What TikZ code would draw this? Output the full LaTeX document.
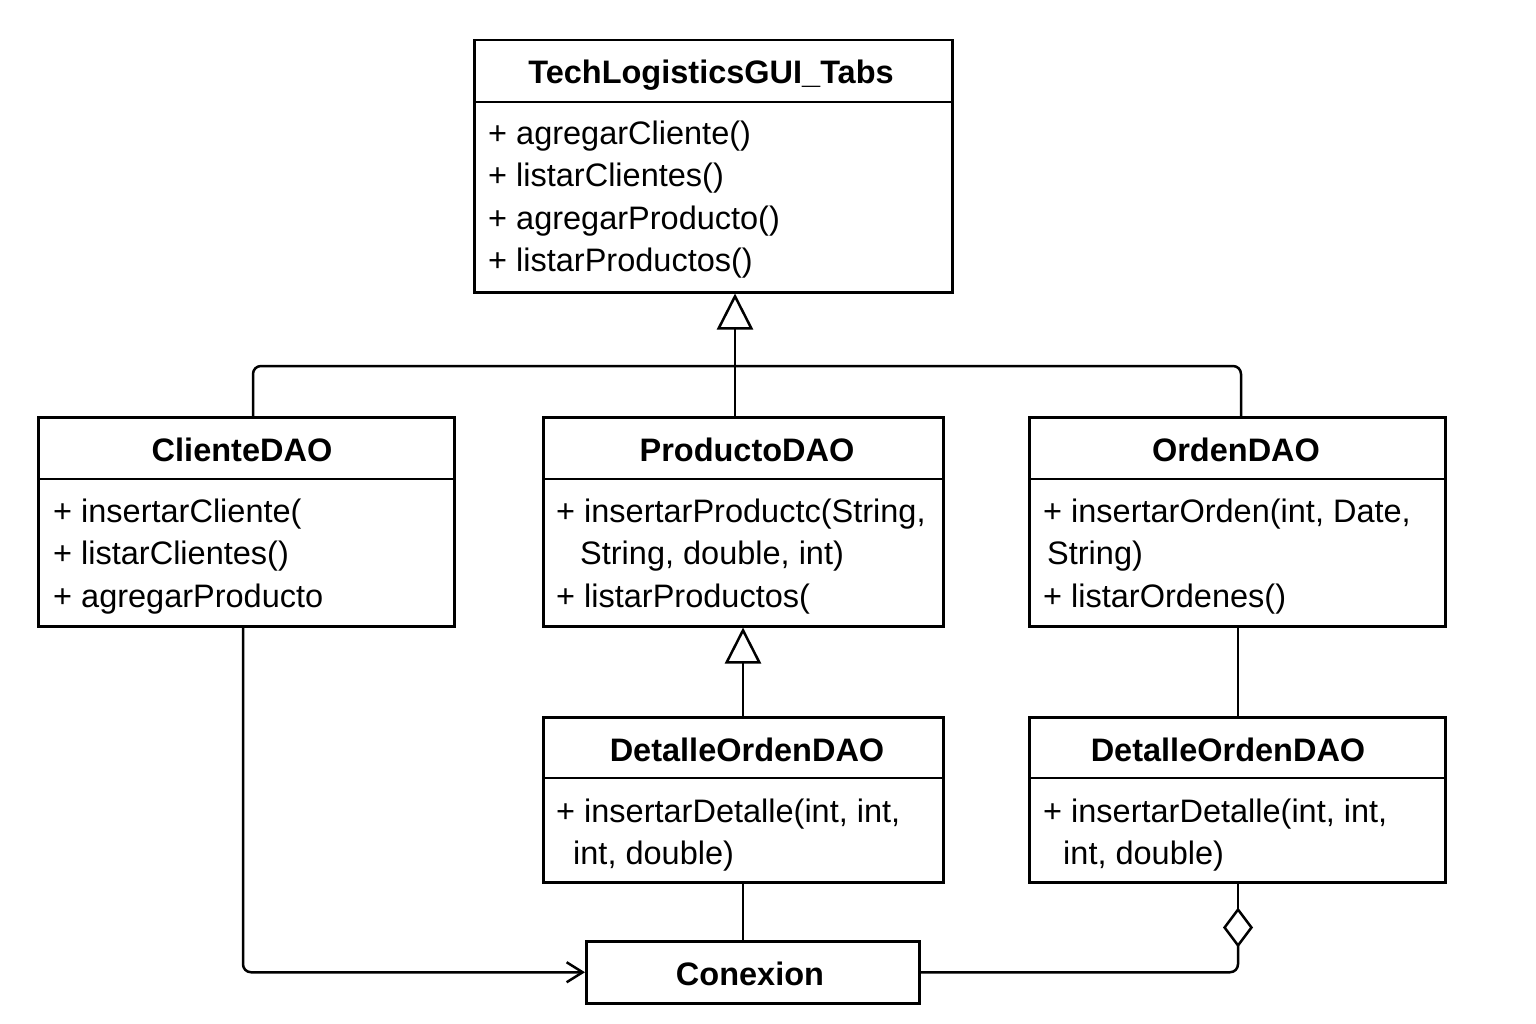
\documentclass[tikz,border=0pt]{standalone}
\usepackage{fontspec}
\setmainfont{Liberation Sans}
\usetikzlibrary{arrows.meta}
\tikzset{
  classbox/.style={draw, line width=2.5pt, inner sep=0pt, anchor=north west, fill=white},
  ctitle/.style={anchor=base, inner sep=0pt, font=\fontsize{32.5}{38}\selectfont\bfseries},
  mline/.style={anchor=base west, inner sep=0pt, font=\fontsize{32.5}{38}\selectfont},
  conn/.style={line width=2.5pt, rounded corners=8pt},
  gen/.style={conn, -{Triangle[open, length=36pt, width=36pt, line width=2.5pt]}},
  agg/.style={conn, -{Diamond[open, length=40pt, width=30pt, line width=2.5pt]}},
  dep/.style={conn, -{Straight Barb[length=16pt, width=20pt, line width=2.5pt]}},
  divider/.style={line width=2.5pt}
}
\begin{document}
\begin{tikzpicture}[x=1pt, y=-1pt]
\useasboundingbox (0,0) rectangle (1536,1024);
\fill[white] (0,0) rectangle (1536,1024);

% ---- TechLogisticsGUI_Tabs
\node[classbox, minimum width=478pt, minimum height=252pt] (gui) at (473,39) {};
\node[ctitle] (guiT) at (711,84) {TechLogisticsGUI\_Tabs};
\coordinate (guiD) at (0,102);
\draw[divider] (gui.west |- guiD) -- (gui.east |- guiD);
\node[mline] (gui1) at (488,145) {+ agregarCliente()};
\node[mline] (gui2) at (488,187) {+ listarClientes()};
\node[mline] (gui3) at (488,230) {+ agregarProducto()};
\node[mline] (gui4) at (488,272) {+ listarProductos()};

% ---- ClienteDAO
\node[classbox, minimum width=416pt, minimum height=209pt] (cli) at (37,416) {};
\node[ctitle] (cliT) at (242,461) {ClienteDAO};
\coordinate (rowD) at (0,479);
\draw[divider] (cli.west |- rowD) -- (cli.east |- rowD);
\node[mline] (cli1) at (53,522) {+ insertarCliente(};
\node[mline] (cli2) at (53,564) {+ listarClientes()};
\node[mline] (cli3) at (53,607) {+ agregarProducto};

% ---- ProductoDAO
\node[classbox, minimum width=400pt, minimum height=209pt] (prod) at (542,416) {};
\node[ctitle] (prodT) at (747,461) {ProductoDAO};
\draw[divider] (prod.west |- rowD) -- (prod.east |- rowD);
\node[mline] (prod1) at (556,522) {+ insertarProductc(String,};
\node[mline] (prod2) at (580,564) {String, double, int)};
\node[mline] (prod3) at (556,607) {+ listarProductos(};

% ---- OrdenDAO
\node[classbox, minimum width=416pt, minimum height=209pt] (ord) at (1028,416) {};
\node[ctitle] (ordT) at (1236,461) {OrdenDAO};
\draw[divider] (ord.west |- rowD) -- (ord.east |- rowD);
\node[mline] (ord1) at (1043,522) {+ insertarOrden(int, Date,};
\node[mline] (ord2) at (1047,564) {String)};
\node[mline] (ord3) at (1043,607) {+ listarOrdenes()};

% ---- DetalleOrdenDAO (middle)
\node[classbox, minimum width=400pt, minimum height=165pt] (detm) at (542,716) {};
\node[ctitle] (detmT) at (747,761) {DetalleOrdenDAO};
\coordinate (rowD2) at (0,778);
\draw[divider] (detm.west |- rowD2) -- (detm.east |- rowD2);
\node[mline] (detm1) at (556,822) {+ insertarDetalle(int, int,};
\node[mline] (detm2) at (573,864) {int, double)};

% ---- DetalleOrdenDAO (right)
\node[classbox, minimum width=416pt, minimum height=165pt] (detr) at (1028,716) {};
\node[ctitle] (detrT) at (1228,761) {DetalleOrdenDAO};
\draw[divider] (detr.west |- rowD2) -- (detr.east |- rowD2);
\node[mline] (detr1) at (1043,822) {+ insertarDetalle(int, int,};
\node[mline] (detr2) at (1063,864) {int, double)};

% ---- Conexion
\node[classbox, minimum width=333pt, minimum height=62pt] (conex) at (585,940) {};
\node[ctitle] (conexT) at (750,985) {Conexion};

% ---- connectors
\coordinate (cx735) at (735,0);
\coordinate (hl) at (253,366);
\coordinate (hr) at (1241,366);
\coordinate (cx743) at (743,0);
\coordinate (cx243) at (243,0);
\coordinate (cx1238) at (1238,0);

\draw[gen] (prod.north -| cx735) -- (gui.south -| cx735);
\draw[conn] (cli.north -| hl) -- (hl) -- (hr) -- (ord.north -| hr);
\draw[gen] (detm.north -| cx743) -- (prod.south -| cx743);
\draw[conn] (ord.south -| cx1238) -- (detr.north -| cx1238);
\draw[conn] (detm.south -| cx743) -- (conex.north -| cx743);
\draw[dep] (cli.south -| cx243) |- (conex.west);
\draw[agg, shorten >=24pt] (conex.east) -| (detr.south -| cx1238);
\draw[conn] (detr.south -| cx1238) -- ++(0,25);
\end{tikzpicture}
\end{document}
